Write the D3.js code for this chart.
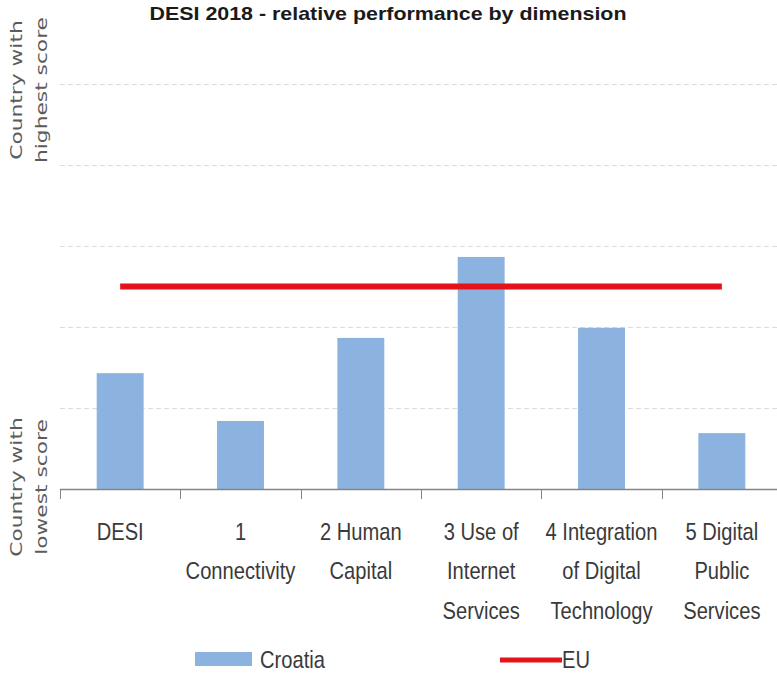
<!DOCTYPE html>
<html>
<head>
<meta charset="utf-8">
<script src="https://cdn.jsdelivr.net/npm/d3@7"></script>
<style>
  html, body { margin: 0; padding: 0; background: #ffffff; }
  svg { display: block; }
</style>
</head>
<body>
<svg id="chart" width="777" height="677"></svg>
<script>
// ---- data ----
const titleText = "DESI 2018 -  relative performance by dimension";
const categories = ["DESI", "1 Connectivity", "2 Human Capital", "3 Use of Internet Services", "4 Integration of Digital Technology", "5 Digital Public Services"];
const categoryLines = [
  ["DESI"],
  ["1", "Connectivity"],
  ["2 Human", "Capital"],
  ["3 Use of", "Internet", "Services"],
  ["4 Integration", "of Digital", "Technology"],
  ["5 Digital", "Public", "Services"]
];
const croatiaValues = [28.6, 16.8, 37.3, 57.3, 39.8, 13.8];
const euValues = [50, 50, 50, 50, 50, 50];
const gridTicks = [20, 40, 60, 80, 100];
const seriesNames = ["Croatia", "EU"];
const topLabelLines = ["Country with", "highest score"];
const bottomLabelLines = ["Country with", "lowest score"];

// ---- layout ----
const svg = d3.select("#chart");
const x = d3.scaleBand().domain(categories).range([60, 782]).paddingInner(0.61).paddingOuter(0.305);
const y = d3.scaleLinear().domain([0, 100]).range([489, 84]);
const barColor = "#8cb2e0";
const euColor = "#e3121b";
const step = x.step();

// gridlines
svg.append("g").selectAll("line").data(gridTicks).join("line")
  .attr("x1", 60).attr("x2", 782)
  .attr("y1", d => Math.round(y(d)) + 0.5).attr("y2", d => Math.round(y(d)) + 0.5)
  .attr("stroke", "#dcdcdc").attr("stroke-width", 1).attr("stroke-dasharray", "5,3");

// bars
svg.append("g").selectAll("rect").data(categories).join("rect")
  .attr("x", d => x(d))
  .attr("width", x.bandwidth())
  .attr("y", (d, i) => y(croatiaValues[i]))
  .attr("height", (d, i) => y(0) - y(croatiaValues[i]))
  .attr("fill", barColor);

// EU line
const euLine = d3.line()
  .x((d, i) => x(categories[i]) + x.bandwidth() / 2)
  .y(d => y(d));
svg.append("path").datum(euValues)
  .attr("d", euLine)
  .attr("fill", "none").attr("stroke", euColor).attr("stroke-width", 6);

// x axis line + ticks
const axisG = svg.append("g");
axisG.append("line")
  .attr("x1", 60).attr("x2", 782).attr("y1", y(0) + 0.5).attr("y2", y(0) + 0.5)
  .attr("stroke", "#858585").attr("stroke-width", 1.5);
const boundaries = d3.range(categories.length + 1).map(i => 60 + i * step);
axisG.selectAll("line.tick").data(boundaries).join("line")
  .attr("class", "tick")
  .attr("x1", d => Math.round(d) + 0.5).attr("x2", d => Math.round(d) + 0.5)
  .attr("y1", y(0)).attr("y2", y(0) + 10)
  .attr("stroke", "#858585").attr("stroke-width", 1);

// category labels
const labelG = svg.append("g")
  .attr("font-family", "'Liberation Sans', Arial, sans-serif")
  .attr("font-size", 24).attr("fill", "#3a3a3a");
categories.forEach((c, i) => {
  const cx = x(c) + x.bandwidth() / 2;
  const g = labelG.append("g").attr("transform", `translate(${cx},0) scale(0.84,1)`);
  categoryLines[i].forEach((ln, k) => {
    g.append("text").attr("x", 0).attr("y", 540 + k * 39.5)
      .attr("text-anchor", "middle").text(ln);
  });
});

// title
svg.append("text")
  .attr("x", 388).attr("y", 20)
  .attr("text-anchor", "middle")
  .attr("font-family", "'Liberation Sans', Arial, sans-serif")
  .attr("font-weight", "bold").attr("font-size", 19)
  .attr("fill", "#1a1a1a")
  .attr("textLength", 477).attr("lengthAdjust", "spacingAndGlyphs")
  .text(titleText);

// side labels (rotated)
function sideLabel(lines, cy) {
  const g = svg.append("g").attr("transform", `translate(0,${cy}) rotate(-90) scale(1.45,1)`)
    .attr("font-family", "'DejaVu Sans', sans-serif")
    .attr("font-size", 15).attr("fill", "#5c5c5c");
  lines.forEach((ln, k) => {
    g.append("text").attr("x", 0).attr("y", 22 + k * 25)
      .attr("text-anchor", "middle").text(ln);
  });
}
sideLabel(topLabelLines, 90);
sideLabel(bottomLabelLines, 487);

// legend
const legend = svg.append("g")
  .attr("font-family", "'Liberation Sans', Arial, sans-serif")
  .attr("font-size", 24).attr("fill", "#3a3a3a");
legend.append("rect").attr("x", 195).attr("y", 652).attr("width", 57).attr("height", 14).attr("fill", barColor);
legend.append("g").attr("transform", "translate(260,0) scale(0.84,1)")
  .append("text").attr("x", 0).attr("y", 668).text(seriesNames[0]);
legend.append("line").attr("x1", 500).attr("x2", 562).attr("y1", 660).attr("y2", 660)
  .attr("stroke", euColor).attr("stroke-width", 5);
legend.append("g").attr("transform", "translate(562,0) scale(0.84,1)")
  .append("text").attr("x", 0).attr("y", 668).text(seriesNames[1]);
</script>
</body>
</html>
